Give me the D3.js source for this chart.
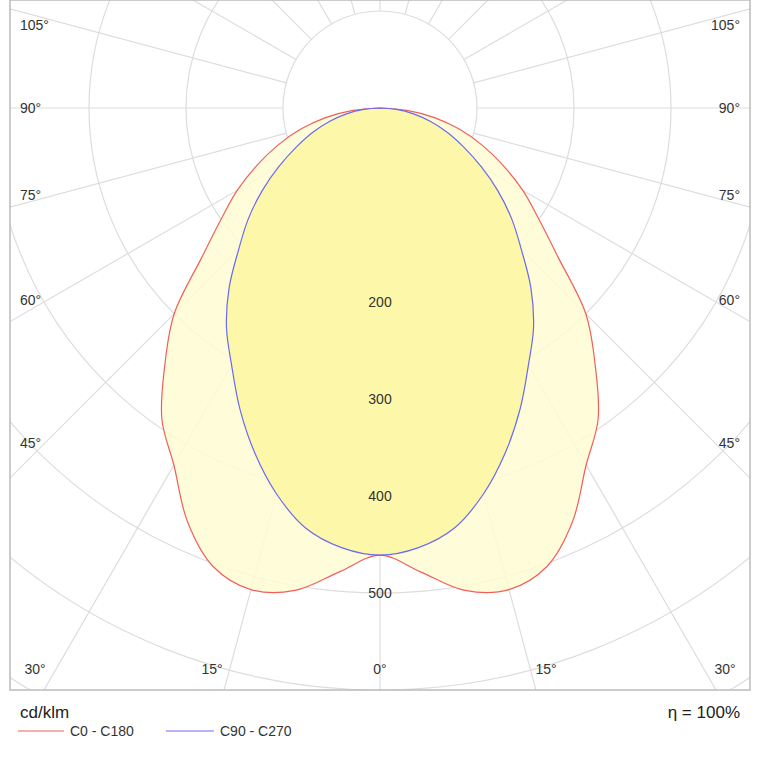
<!DOCTYPE html><html><head><meta charset="utf-8">
<script src="https://cdn.jsdelivr.net/npm/d3@7"></script>
<style>body{margin:0;background:#fff}text{font-family:Arial,"Liberation Sans",sans-serif}</style></head><body>
<svg id="c" width="767" height="767"></svg>
<script>
const angles=[0,5,10,15,20,25,30,35,40,45,50,55,60,65,70,75,80,85,90];
const c0=[461,480,505,514,503,470,425,392,345,300,240,200,170,140,112,85,57,28,0];
const c90=[461,455,440,412,378,342,306,276,242,206,177,148,120,95,74,54,35,17,0];
const rings=[100,200,300,400,500,600,700,800];
const ringLabels=[200,300,400,500];
const sideLabels=["105°","90°","75°","60°","45°"];
const sideY=[25,108,195,300,443];
const bottomLabels=["30°","15°","0°","15°","30°"];
const bottomX=[35,212,380,546,725];
const svg=d3.select("#c");
const cx=380,cy=108,L=10,R=750,T=0,B=690;
const r=d3.scaleLinear().domain([0,100]).range([0,97]);
svg.append("clipPath").attr("id","cl").append("rect").attr("x",L).attr("y",T).attr("width",R-L).attr("height",B-T);
const g=svg.append("g").attr("clip-path","url(#cl)");
g.selectAll("circle.ring").data(rings).join("circle").attr("cx",cx).attr("cy",cy).attr("r",d=>r(d)).attr("fill","none").attr("stroke","#ddd").attr("stroke-width",1.2);
const rad=[];for(let a=-180;a<180;a+=15)rad.push(a);
g.selectAll("line.rad").data(rad).join("line")
 .attr("x1",d=>cx-Math.sin(d*Math.PI/180)*r(100)).attr("y1",d=>cy+Math.cos(d*Math.PI/180)*r(100))
 .attr("x2",d=>cx-Math.sin(d*Math.PI/180)*2000).attr("y2",d=>cy+Math.cos(d*Math.PI/180)*2000)
 .attr("stroke","#ddd").attr("stroke-width",1.2);
function full(vals){const p=[];for(let i=angles.length-1;i>0;i--)p.push([-angles[i],vals[i]]);angles.forEach((a,i)=>p.push([a,vals[i]]));return p;}
const line=d3.line().x(d=>cx+Math.sin(d[0]*Math.PI/180)*r(d[1])).y(d=>cy+Math.cos(d[0]*Math.PI/180)*r(d[1])).curve(d3.curveCatmullRom);
g.append("path").attr("d",line(full(c0))+"Z").attr("fill","#fffbd2").attr("fill-opacity",0.85);
g.append("path").attr("d",line(full(c90))+"Z").attr("fill","#fdf7a0").attr("fill-opacity",0.85);
g.append("path").attr("d",line(full(c0))).attr("fill","none").attr("stroke","#f0605a").attr("stroke-width",1.2);
g.append("path").attr("d",line(full(c90))).attr("fill","none").attr("stroke","#6a6aee").attr("stroke-width",1.2);
g.selectAll("text.rl").data(ringLabels).join("text").attr("x",cx).attr("y",d=>cy+r(d)+5).attr("text-anchor","middle").attr("font-size",14).attr("fill","#333").text(d=>d);
svg.append("rect").attr("x",L).attr("y",T).attr("width",R-L).attr("height",B-T).attr("fill","none").attr("stroke","#bbb").attr("stroke-width",1.5);
sideLabels.forEach((t,i)=>{
 svg.append("text").attr("x",20).attr("y",sideY[i]+5).attr("font-size",14).attr("fill","#333").text(t);
 svg.append("text").attr("x",740).attr("y",sideY[i]+5).attr("text-anchor","end").attr("font-size",14).attr("fill","#333").text(t);
});
bottomLabels.forEach((t,i)=>svg.append("text").attr("x",bottomX[i]).attr("y",674).attr("text-anchor","middle").attr("font-size",14).attr("fill","#333").text(t));
svg.append("text").attr("x",20).attr("y",718).attr("font-size",17).attr("fill","#222").text("cd/klm");
svg.append("text").attr("x",740).attr("y",718).attr("text-anchor","end").attr("font-size",17).attr("fill","#222").text("η = 100%");
svg.append("line").attr("x1",18).attr("x2",64).attr("y1",731).attr("y2",731).attr("stroke","#f0605a");
svg.append("text").attr("x",70).attr("y",736).attr("font-size",14).attr("fill","#333").text("C0 - C180");
svg.append("line").attr("x1",166).attr("x2",214).attr("y1",731).attr("y2",731).attr("stroke","#6a6aee");
svg.append("text").attr("x",220).attr("y",736).attr("font-size",14).attr("fill","#333").text("C90 - C270");
</script></body></html>
